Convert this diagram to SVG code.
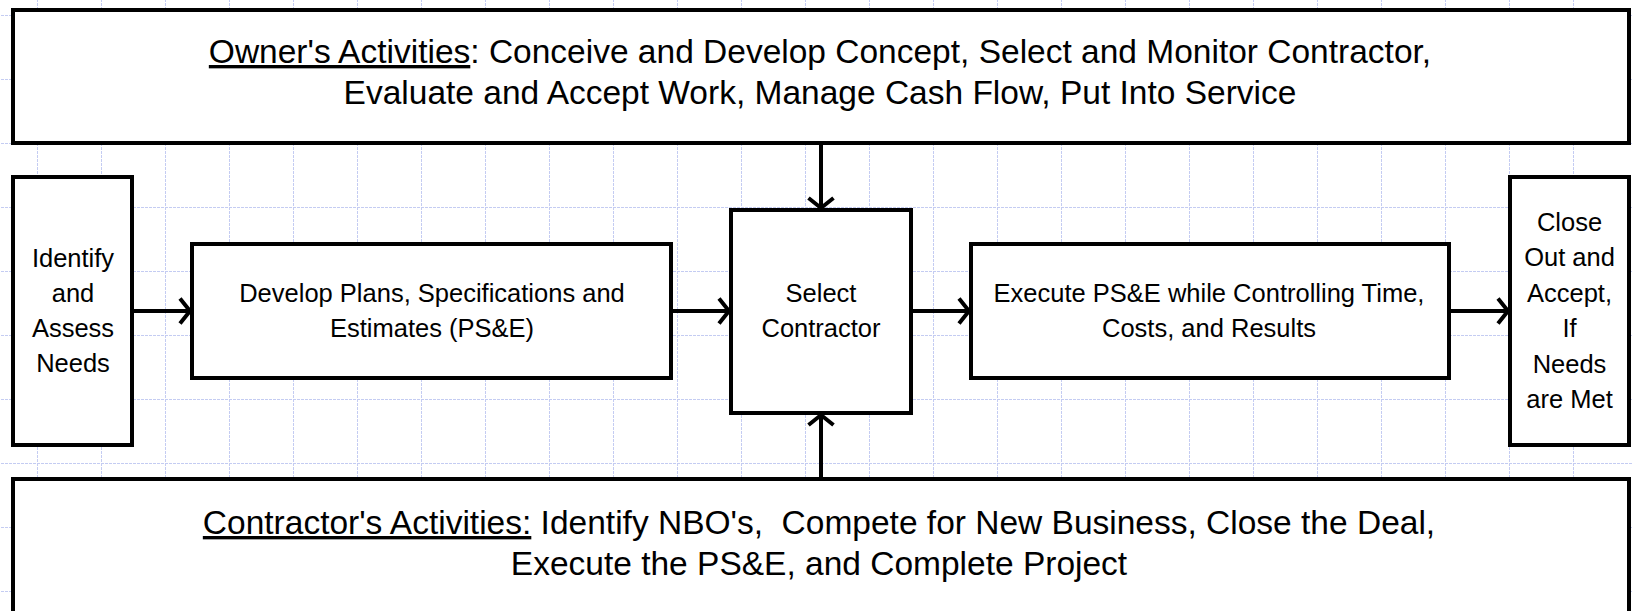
<svg xmlns="http://www.w3.org/2000/svg" width="1633" height="611" viewBox="0 0 1633 611">
  <style>
    .box { fill: #ffffff; stroke: #000000; stroke-width: 4; }
    .big { font-family: "Liberation Sans", Arial, sans-serif; font-size: 33.5px; fill: #000000; text-anchor: middle; white-space: pre; }
    .lbl { font-family: "Liberation Sans", Arial, sans-serif; font-size: 25.5px; fill: #000000; text-anchor: middle; }
    .u { text-decoration: underline; }
    .conn { fill: none; stroke: #000000; stroke-width: 4; }
  </style>
  <defs>
    <pattern id="grid" patternUnits="userSpaceOnUse" x="37" y="15" width="64" height="64">
      <path d="M0.5,0 V64 M0,0.5 H64" fill="none" stroke="#c4ccf2" stroke-width="1" stroke-dasharray="3 1"/>
    </pattern>
    <marker id="arr" markerUnits="userSpaceOnUse" markerWidth="30" markerHeight="30" viewBox="-15 -15 30 30" refX="0" refY="0" orient="auto">
      <path d="M-12,-12.5 L-2,0 L-12,12.5" fill="none" stroke="#000000" stroke-width="4"/>
    </marker>
  </defs>

  <!-- background with light drafting grid -->
  <rect x="0" y="0" width="1633" height="611" fill="#ffffff"/>
  <rect x="0" y="0" width="1633" height="611" fill="url(#grid)"/>

  <!-- connectors -->
  <g id="connectors">
    <path class="conn" d="M132,311 H192" marker-end="url(#arr)"/>
    <path class="conn" d="M671,311 H731" marker-end="url(#arr)"/>
    <path class="conn" d="M911,311 H971" marker-end="url(#arr)"/>
    <path class="conn" d="M1449,311 H1510" marker-end="url(#arr)"/>
    <path class="conn" d="M821,143 V210" marker-end="url(#arr)"/>
    <path class="conn" d="M821,479 V413" marker-end="url(#arr)"/>
  </g>

  <g id="owner">
    <rect class="box" x="13" y="10" width="1616" height="133"/>
    <text class="big" x="820" y="63"><tspan class="u">Owner's Activities</tspan>: Conceive and Develop Concept, Select and Monitor Contractor,</text>
    <text class="big" x="820" y="104">Evaluate and Accept Work, Manage Cash Flow, Put Into Service</text>
  </g>

  <g id="identify">
    <rect class="box" x="13" y="177" width="119" height="268"/>
    <text class="lbl" x="73" y="267">Identify</text>
    <text class="lbl" x="73" y="302">and</text>
    <text class="lbl" x="73" y="337">Assess</text>
    <text class="lbl" x="73" y="372">Needs</text>
  </g>

  <g id="develop">
    <rect class="box" x="192" y="244" width="479" height="134"/>
    <text class="lbl" x="432" y="302">Develop Plans, Specifications and</text>
    <text class="lbl" x="432" y="337">Estimates (PS&amp;E)</text>
  </g>

  <g id="select">
    <rect class="box" x="731" y="210" width="180" height="203"/>
    <text class="lbl" x="821" y="302">Select</text>
    <text class="lbl" x="821" y="337">Contractor</text>
  </g>

  <g id="execute">
    <rect class="box" x="971" y="244" width="478" height="134"/>
    <text class="lbl" x="1209" y="302">Execute PS&amp;E while Controlling Time,</text>
    <text class="lbl" x="1209" y="337">Costs, and Results</text>
  </g>

  <g id="closeout">
    <rect class="box" x="1510" y="177" width="119" height="268"/>
    <text class="lbl" x="1569.5" y="231">Close</text>
    <text class="lbl" x="1569.5" y="266">Out and</text>
    <text class="lbl" x="1569.5" y="302">Accept,</text>
    <text class="lbl" x="1569.5" y="337">If</text>
    <text class="lbl" x="1569.5" y="373">Needs</text>
    <text class="lbl" x="1569.5" y="408">are Met</text>
  </g>

  <g id="contractor">
    <rect class="box" x="13" y="479" width="1616" height="170"/>
    <text class="big" x="819" y="534"><tspan class="u">Contractor's Activities:</tspan> Identify NBO's,  Compete for New Business, Close the Deal,</text>
    <text class="big" x="819" y="575">Execute the PS&amp;E, and Complete Project</text>
  </g>
</svg>
